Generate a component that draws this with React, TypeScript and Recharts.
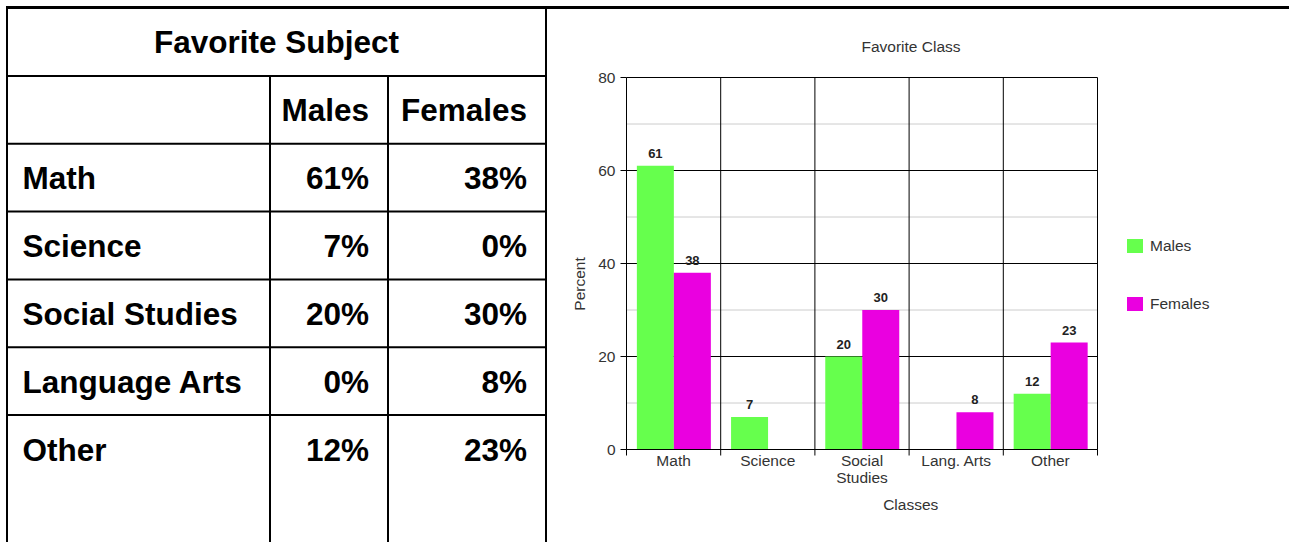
import {
  Bar,
  BarChart,
  CartesianGrid,
  LabelList,
  Legend,
  Text,
  XAxis,
  YAxis,
} from "recharts";

const subjects = ["Math", "Science", "Social Studies", "Language Arts", "Other"];
const classLabels = ["Math", "Science", "Social Studies", "Lang. Arts", "Other"];
const seriesNames = ["Males", "Females"];
const malesPct = [61, 7, 20, 0, 12];
const femalesPct = [38, 0, 30, 8, 23];
const yTicks = [0, 20, 40, 60, 80];
const minorTicks = [10, 30, 50, 70];

const GREEN = "#66ff4d";
const MAGENTA = "#ea00e0";
const SANS = "'Liberation Sans', Arial, Helvetica, sans-serif";

// chart box, in page pixels
const CHART_LEFT = 560;
const CHART_W = 640;
const CHART_H = 542;
const Y_AXIS_W = 66.5;
const PLOT_W = 471;
const PLOT_TOP = 77.5;
const X_AXIS_H = 30;
const BOTTOM_SPACE = 92.5;
const PLOT_H = CHART_H - PLOT_TOP - BOTTOM_SPACE;
const BAND = PLOT_W / classLabels.length;

// table box
const TABLE_COLS = [7, 270, 388, 546];
const TITLE_ROW_BOTTOM = 76;
const ROW_H = 67.8;
const TABLE_FONT = 31.5;

const data = classLabels.map((name, i) => ({
  name,
  Males: malesPct[i],
  Females: femalesPct[i],
}));

const hideZero = (v: any) => (Number(v) === 0 ? "" : v);

// light rows at the odd tens, placed with the y axis scale
const minorRows = ({ yAxis, offset }: any) =>
  minorTicks.map((v) =>
    typeof yAxis?.scale === "function"
      ? yAxis.scale(v)
      : offset.top + offset.height * (1 - v / yTicks[yTicks.length - 1])
  );

function ClassTick({ x, index, payload }: any) {
  const axisY = PLOT_TOP + PLOT_H;
  const last = index === classLabels.length - 1;
  return (
    <g>
      <line x1={x - BAND / 2} x2={x - BAND / 2} y1={axisY} y2={axisY + 6} stroke="#000" />
      {last && <line x1={x + BAND / 2} x2={x + BAND / 2} y1={axisY} y2={axisY + 6} stroke="#000" />}
      <Text
        x={x}
        y={axisY + 5}
        width={80}
        textAnchor="middle"
        verticalAnchor="start"
        lineHeight={17}
        fill="#333"
        fontSize={15.5}
        style={{ fontSize: 15.5, fontFamily: SANS }}
      >
        {payload.value}
      </Text>
    </g>
  );
}

function SubjectTable() {
  const rowTops = [TITLE_ROW_BOTTOM, ...subjects.map((_, i) => TITLE_ROW_BOTTOM + ROW_H * (i + 1))];
  const textStyle = { fontFamily: SANS, fontWeight: 700, fontSize: TABLE_FONT };
  return (
    <svg width={1289} height={542} style={{ position: "absolute", left: 0, top: 0 }}>
      <line x1={6} x2={1289} y1={7.5} y2={7.5} stroke="#000" strokeWidth={3} />
      {rowTops.map((y) => (
        <line key={y} x1={6} x2={547} y1={y} y2={y} stroke="#000" strokeWidth={2} />
      ))}
      <line x1={TABLE_COLS[0]} x2={TABLE_COLS[0]} y1={6} y2={542} stroke="#000" strokeWidth={2} />
      <line x1={TABLE_COLS[3]} x2={TABLE_COLS[3]} y1={6} y2={542} stroke="#000" strokeWidth={2} />
      <line x1={TABLE_COLS[1]} x2={TABLE_COLS[1]} y1={TITLE_ROW_BOTTOM} y2={542} stroke="#000" strokeWidth={2} />
      <line x1={TABLE_COLS[2]} x2={TABLE_COLS[2]} y1={TITLE_ROW_BOTTOM} y2={542} stroke="#000" strokeWidth={2} />

      <text x={276.5} y={52.5} textAnchor="middle" style={textStyle}>
        Favorite Subject
      </text>
      <text x={TABLE_COLS[2] - 19} y={TITLE_ROW_BOTTOM + 45.4} textAnchor="end" style={textStyle}>
        Males
      </text>
      <text x={TABLE_COLS[3] - 19} y={TITLE_ROW_BOTTOM + 45.4} textAnchor="end" style={textStyle}>
        Females
      </text>
      {subjects.map((s, i) => {
        const base = rowTops[i + 1] + 45.5;
        return (
          <g key={s}>
            <text x={22.5} y={base} style={textStyle}>
              {s}
            </text>
            <text x={TABLE_COLS[2] - 19} y={base} textAnchor="end" style={textStyle}>
              {`${malesPct[i]}%`}
            </text>
            <text x={TABLE_COLS[3] - 19} y={base} textAnchor="end" style={textStyle}>
              {`${femalesPct[i]}%`}
            </text>
          </g>
        );
      })}
    </svg>
  );
}

export default function App() {
  return (
    <div
      style={{
        position: "absolute",
        left: 0,
        top: 0,
        width: 1289,
        height: 542,
        background: "#fff",
        overflow: "hidden",
        fontFamily: SANS,
      }}
    >
      <SubjectTable />

      <div
        style={{
          position: "absolute",
          left: 811,
          top: 37.5,
          width: 200,
          textAlign: "center",
          fontSize: 15.5,
          lineHeight: "18px",
          color: "#333",
        }}
      >
        Favorite Class
      </div>

      <div style={{ position: "absolute", left: CHART_LEFT, top: 0 }}>
        <BarChart
          width={CHART_W}
          height={CHART_H}
          data={data}
          margin={{
            top: PLOT_TOP,
            right: CHART_W - Y_AXIS_W - PLOT_W,
            bottom: BOTTOM_SPACE - X_AXIS_H,
            left: 0,
          }}
          barCategoryGap="11%"
          barGap={0}
        >
          <CartesianGrid stroke="#cccccc" vertical={false} horizontalCoordinatesGenerator={minorRows} />
          <CartesianGrid
            stroke="#000"
            verticalCoordinatesGenerator={({ offset }: any) =>
              classLabels.map((_, i) => offset.left + ((i + 1) * offset.width) / classLabels.length)
            }
          />
          <XAxis
            dataKey="name"
            height={X_AXIS_H}
            axisLine={{ stroke: "#000" }}
            tickLine={false}
            interval={0}
            tick={<ClassTick />}
            label={{
              content: ({ viewBox }: any) => (
                <text
                  x={viewBox.x + viewBox.width / 2 + 48.7}
                  y={viewBox.y + 60}
                  textAnchor="middle"
                  fill="#333"
                  style={{ fontSize: 15.5, fontFamily: SANS }}
                >
                  Classes
                </text>
              ),
            }}
          />
          <YAxis
            width={Y_AXIS_W}
            domain={[0, 80]}
            ticks={yTicks}
            interval={0}
            axisLine={{ stroke: "#000" }}
            tickLine={{ stroke: "#000" }}
            tickSize={6}
            tickMargin={5}
            tick={{ fill: "#333", fontSize: 15.5, fontFamily: SANS }}
            label={{
              content: ({ viewBox }: any) => {
                const cx = viewBox.x + 19;
                const cy = viewBox.y + viewBox.height / 2 + 20.5;
                return (
                  <text
                    x={cx}
                    y={cy}
                    transform={`rotate(-90, ${cx}, ${cy})`}
                    textAnchor="middle"
                    dominantBaseline="central"
                    fill="#333"
                    style={{ fontSize: 15.5, fontFamily: SANS }}
                  >
                    Percent
                  </text>
                );
              },
            }}
          />
          <Legend
            layout="vertical"
            align="center"
            verticalAlign="middle"
            wrapperStyle={{ left: 1127 - CHART_LEFT, top: 239, width: 110 }}
            content={(props: any) => (
              <div>
                {[...(props.payload || [])]
                  .sort((a: any, b: any) => seriesNames.indexOf(a.value) - seriesNames.indexOf(b.value))
                  .map((entry: any, i: number) => (
                    <div
                      key={entry.value}
                      style={{ display: "flex", alignItems: "center", height: 14, marginTop: i ? 44.3 : 0 }}
                    >
                      <span style={{ width: 16, height: 14, background: entry.color, flex: "none" }} />
                      <span style={{ marginLeft: 7, fontSize: 15.5, color: "#333", lineHeight: "14px" }}>
                        {entry.value}
                      </span>
                    </div>
                  ))}
              </div>
            )}
          />
          <Bar dataKey="Males" fill={GREEN} isAnimationActive={false}>
            <LabelList
              dataKey="Males"
              position="top"
              offset={8}
              formatter={hideZero}
              fill="#222"
              style={{ fontSize: 13, fontWeight: 700, fontFamily: SANS }}
            />
          </Bar>
          <Bar dataKey="Females" fill={MAGENTA} isAnimationActive={false}>
            <LabelList
              dataKey="Females"
              position="top"
              offset={8}
              formatter={hideZero}
              fill="#222"
              style={{ fontSize: 13, fontWeight: 700, fontFamily: SANS }}
            />
          </Bar>
        </BarChart>
      </div>
    </div>
  );
}
